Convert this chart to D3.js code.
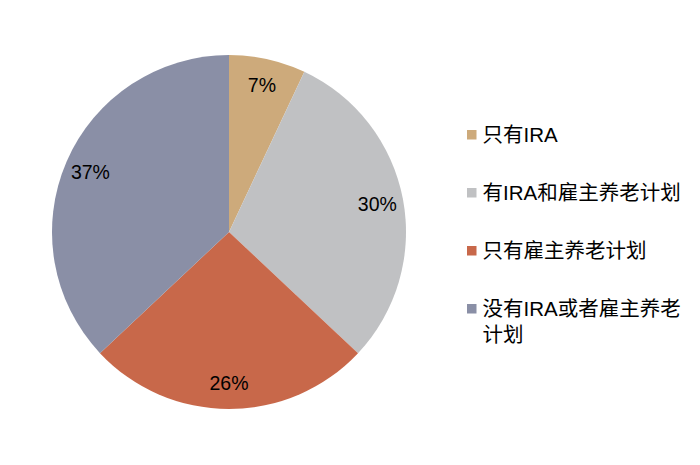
<!DOCTYPE html>
<html>
<head>
<meta charset="utf-8">
<script src="https://cdn.jsdelivr.net/npm/d3@7"></script>
<style>
  body { margin: 0; background: #fff; }
  text { font-family: "Liberation Sans", Arial, "Noto Sans CJK SC", sans-serif; }
</style>
</head>
<body>
<svg id="chart"></svg>
<script>
const w = 700;
const h = 465;

// data
const categories = ['只有IRA', '有IRA和雇主养老计划', '只有雇主养老计划', '没有IRA或者雇主养老计划'];
const values = [7, 30, 26, 37];
const legendLines = [['只有IRA'], ['有IRA和雇主养老计划'], ['只有雇主养老计划'], ['没有IRA或者雇主养老', '计划']];
const colors = ['#CDAA7B', '#C0C1C3', '#C8684A', '#8A8FA6'];

const cx = 229;
const cy = 232;
const radius = 177;
const labelR = 151;

const svg = d3.select('#chart').attr('width', w).attr('height', h);

const pie = d3.pie().sort(null).value((d) => d);
const arcs = pie(values);

const arc = d3.arc().innerRadius(0).outerRadius(radius);
const labelArc = d3.arc().innerRadius(labelR).outerRadius(labelR);

const g = svg.append('g').attr('transform', `translate(${cx},${cy})`);

g.selectAll('path')
  .data(arcs)
  .enter()
  .append('path')
  .attr('d', arc)
  .attr('fill', (d, i) => colors[i]);

g.selectAll('text.pct')
  .data(arcs)
  .enter()
  .append('text')
  .attr('class', 'pct')
  .attr('transform', (d) => `translate(${labelArc.centroid(d)})`)
  .attr('text-anchor', 'middle')
  .attr('dy', '0.36em')
  .attr('font-size', 19.5)
  .attr('fill', '#000')
  .text((d) => d.data + '%');

////// LEGEND //////
const legendY = d3.scalePoint().domain(categories).range([134.5, 308.5]);

const legend = svg
  .selectAll('g.legend')
  .data(categories)
  .enter()
  .append('g')
  .attr('class', 'legend')
  .attr('transform', (d) => `translate(467,${legendY(d)})`);

legend
  .append('rect')
  .attr('x', 0)
  .attr('y', -4.5)
  .attr('width', 9.5)
  .attr('height', 9.5)
  .attr('fill', (d, i) => colors[i]);

legend
  .append('text')
  .attr('x', 15.5)
  .attr('y', 0)
  .attr('font-size', 20.5)
  .attr('fill', '#000')
  .selectAll('tspan')
  .data((d, i) => legendLines[i])
  .enter()
  .append('tspan')
  .attr('x', 15.5)
  .attr('dy', (d, i) => (i === 0 ? '0.36em' : '1.29em'))
  .text((d) => d);
</script>
</body>
</html>
